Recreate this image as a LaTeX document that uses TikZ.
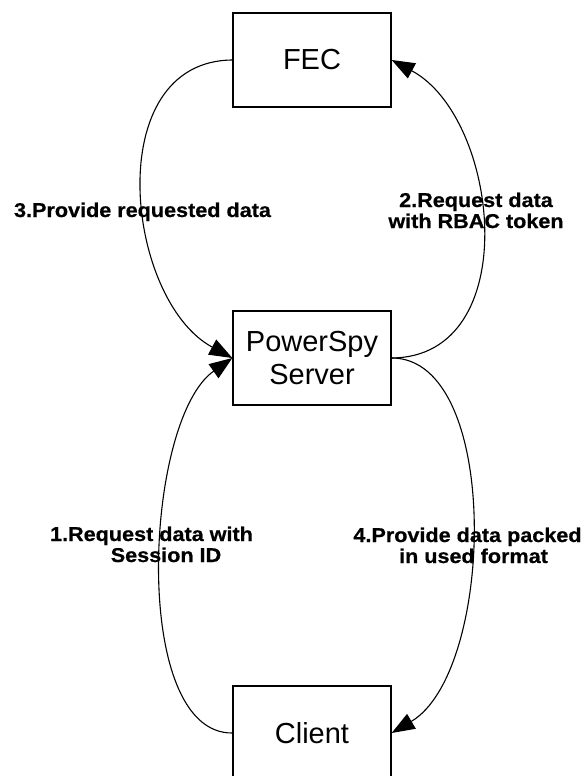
\documentclass[tikz,border=0pt]{standalone}
\usepackage{fontspec}
\setmainfont{Liberation Sans}
\newfontfamily\lblfont[FakeStretch=1.08, BoldFeatures={FakeBold=0.6}]{Liberation Sans}
\usetikzlibrary{arrows.meta}
\begin{document}
\begin{tikzpicture}[x=1pt,y=-1pt,
  box/.style={draw, line width=1.3pt, minimum width=158pt, minimum height=94pt,
    inner sep=0pt, align=center, font=\fontsize{29}{33}\selectfont},
  flow/.style={line width=1.1pt, -{Triangle[length=23pt,width=17pt]}},
  lbl/.style={inner sep=0pt, align=center,
    font=\lblfont\bfseries\fontsize{20}{21}\selectfont}]
\useasboundingbox (0,0) rectangle (587,776);

% the three stations
\node[box] (fec) at (312,60)  {FEC};
\node[box] (srv) at (312,358) {PowerSpy\\Server};
\node[box] (cli) at (312,733) {Client};

% step labels (base anchor sits on the last line)
\node[lbl, anchor=base] (l3) at (142.5,217) {3.Provide requested data};
\node[lbl, anchor=base] (l2) at (476,228) {2.Request data\\with RBAC token};
\node[lbl, anchor=base] (l1) at (151.5,562) {1.Request data with\\\hspace*{29pt}Session ID};
\node[lbl, anchor=base] (l4) at (467.5,563) {4.Provide data packed\\\hspace*{12pt}in used format};

% request / response arcs
\draw[flow] (fec.west) .. controls (100,61) and (125,300) .. (srv.west);
\draw[flow] (srv.east) .. controls (525,357) and (500,118) .. (fec.east);
\draw[flow] (cli.west) .. controls (130,734) and (144,420) .. (srv.west);
\draw[flow] (srv.east) .. controls (502,358) and (495,672) .. (cli.east);
\end{tikzpicture}
\end{document}
